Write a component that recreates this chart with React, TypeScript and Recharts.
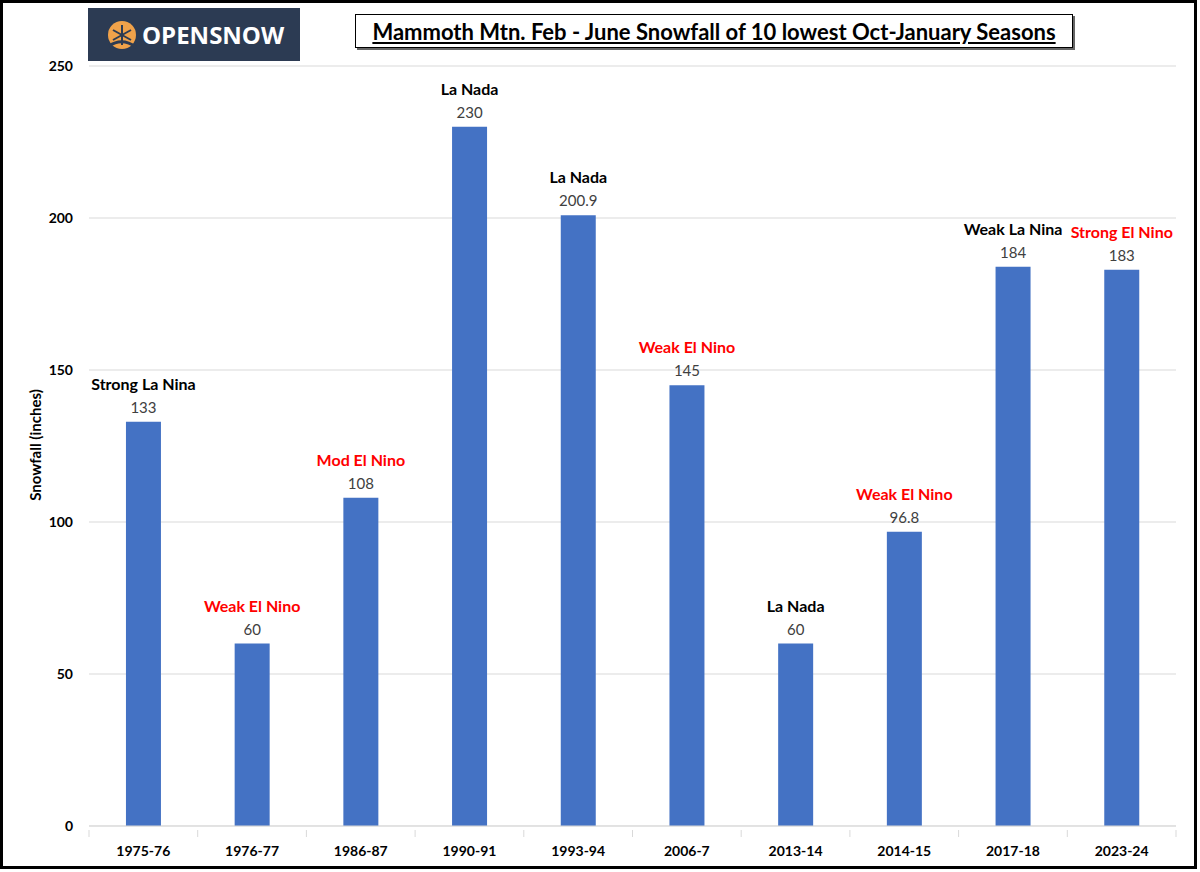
import React from 'react';
import { BarChart, Bar, XAxis, YAxis, CartesianGrid, LabelList } from 'recharts';

const seasons = ['1975-76', '1976-77', '1986-87', '1990-91', '1993-94', '2006-7', '2013-14', '2014-15', '2017-18', '2023-24'];
const snowfall = [133, 60, 108, 230, 200.9, 145, 60, 96.8, 184, 183];
const enso = ['Strong La Nina', 'Weak El Nino', 'Mod El Nino', 'La Nada', 'La Nada', 'Weak El Nino', 'La Nada', 'Weak El Nino', 'Weak La Nina', 'Strong El Nino'];
const yTicks = [0, 50, 100, 150, 200, 250];

const FONT = 'Lato, "Open Sans", sans-serif';

const data = seasons.map((season, i) => ({
  season,
  value: snowfall[i],
  enso: enso[i],
}));

const ensoColor = (label: string) => (label.includes('El Nino') ? '#ff0000' : '#000000');

function SeasonTick(props: any) {
  const { x, y, payload } = props;
  const half = payload && payload.offset ? payload.offset : 54.3;
  return (
    <g>
      <line x1={x - half} y1={y - 4} x2={x - half} y2={y + 3} stroke="#d9d9d9" />
      {payload.index === seasons.length - 1 && (
        <line x1={x + half} y1={y - 4} x2={x + half} y2={y + 3} stroke="#d9d9d9" />
      )}
      <text x={x} y={y + 22} textAnchor="middle" fontFamily={FONT} fontWeight={700} fontSize={14} fill="#000">
        {payload.value}
      </text>
    </g>
  );
}

function EnsoLabel(props: any) {
  const { x, y, width, value } = props;
  return (
    <text x={x + width / 2} y={y - 32} textAnchor="middle" fontFamily={FONT} fontWeight={700} fontSize={16} fill={ensoColor(value)}>
      {value}
    </text>
  );
}

function ValueLabel(props: any) {
  const { x, y, width, value } = props;
  return (
    <text x={x + width / 2} y={y - 9} textAnchor="middle" fontFamily={FONT} fontSize={15} fill="#404040">
      {value}
    </text>
  );
}

function Logo() {
  return (
    <div style={{ position: 'absolute', left: 88, top: 8, width: 212, height: 53, background: '#2c3b53', display: 'flex', alignItems: 'center' }}>
      <svg width={36} height={40} style={{ marginLeft: 16 }}>
        <circle cx={18} cy={20} r={14} fill="#f0a24a" />
        <g stroke="#2c3b53" strokeWidth={2}>
          <line x1={18} y1={10} x2={18} y2={30} />
          <line x1={9} y1={15} x2={27} y2={25} />
          <line x1={9} y1={25} x2={27} y2={15} />
        </g>
        <path d="M5 31 Q18 22 32 32" stroke="#2c3b53" strokeWidth={3} fill="none" />
      </svg>
      <span style={{ fontFamily: '"Open Sans", sans-serif', fontWeight: 700, fontSize: 24, color: '#fff', marginLeft: 2 }}>
        OPENSNOW
      </span>
    </div>
  );
}

export default function App() {
  return (
    <div style={{ position: 'absolute', left: 0, top: 0, width: 1200, height: 872, background: '#fff' }}>
      <div style={{ position: 'absolute', left: 0, top: 0, width: 1191, height: 863, border: '3px solid #000' }} />
      <Logo />
      <div
        style={{
          position: 'absolute',
          left: 355,
          top: 14,
          width: 716,
          height: 32,
          border: '1px solid #000',
          boxShadow: '2px 2px 0 #666',
          display: 'flex',
          alignItems: 'center',
          justifyContent: 'center',
          fontFamily: FONT,
          fontWeight: 700,
          fontSize: 22,
          textDecoration: 'underline',
          color: '#000',
        }}
      >
        Mammoth Mtn. Feb - June Snowfall of 10 lowest Oct-January Seasons
      </div>
      <div
        style={{
          position: 'absolute',
          left: 35,
          top: 445,
          transform: 'translate(-50%, -50%) rotate(-90deg)',
          fontFamily: FONT,
          fontWeight: 700,
          fontSize: 15,
          whiteSpace: 'nowrap',
        }}
      >
        Snowfall (inches)
      </div>
      <div style={{ position: 'absolute', left: 0, top: 0 }}>
        <BarChart width={1200} height={872} data={data} margin={{ top: 66, right: 24, bottom: 16, left: 0 }} barCategoryGap="34%">
          <CartesianGrid vertical={false} stroke="#d9d9d9" />
          <XAxis dataKey="season" interval={0} height={30} tickLine={false} axisLine={{ stroke: '#d9d9d9' }} tick={<SeasonTick />} />
          <YAxis
            width={89}
            domain={[0, 250]}
            ticks={yTicks}
            axisLine={false}
            tickLine={false}
            tickSize={0}
            tickMargin={16}
            tick={{ fontFamily: FONT, fontWeight: 700, fontSize: 14, fill: '#000' }}
          />
          <Bar dataKey="value" fill="#4472c4" isAnimationActive={false}>
            <LabelList dataKey="value" content={<ValueLabel />} />
            <LabelList dataKey="enso" content={<EnsoLabel />} />
          </Bar>
        </BarChart>
      </div>
    </div>
  );
}
